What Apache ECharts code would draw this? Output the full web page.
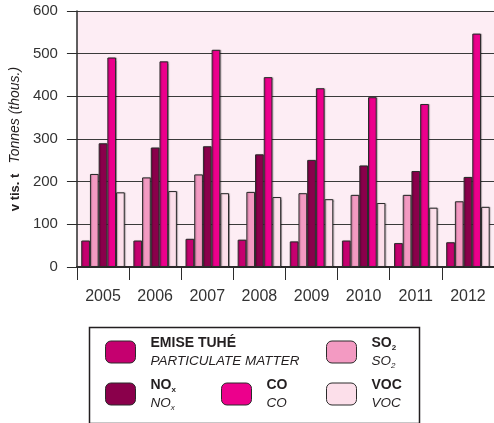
<!DOCTYPE html>
<html>
<head>
<meta charset="utf-8">
<script src="https://cdn.jsdelivr.net/npm/echarts@6/dist/echarts.min.js"></script>
<style>
  html, body { margin: 0; padding: 0; background: #fff; }
  #chart { width: 494px; height: 423px; }
</style>
</head>
<body>
<div id="chart"></div>
<script>
// emissions, thousand tonnes
const years = ['2005', '2006', '2007', '2008', '2009', '2010', '2011', '2012']
const particulate = [62, 62, 66, 64, 60, 62, 56, 58]
const so2 = [218, 210, 217, 176, 173, 169, 169, 154]
const nox = [290, 280, 283, 264, 251, 238, 225, 211]
const co = [491, 482, 509, 445, 419, 398, 382, 547]
const voc = [175, 178, 173, 164, 159, 150, 139, 141]

const font = '"Liberation Sans", Arial, Helvetica, sans-serif'
const dark = '#2b2b2b'

const colors = {
  'EMISE TUHÉ': '#c5006f',
  'SO2': '#f39ac2',
  'NOx': '#8a004b',
  'CO': '#ec008c',
  'VOC': '#fcdfea'
}

const labels = {
  'EMISE TUHÉ': '{bp|EMISE TUHÉ}\n{ip|PARTICULATE MATTER}',
  'SO2': '{bp|SO}{bs|2}\n{ip|SO}{is|2}',
  'NOx': '{bp|NO}{bs|x}\n{ip|NO}{is|x}',
  'CO': '{bp|CO}\n{ip|CO}',
  'VOC': '{bp|VOC}\n{ip|VOC}'
}

const rich = {
  bp: { fontFamily: font, fontSize: 14, fontWeight: 'bold', color: '#231f20', lineHeight: 18, padding: [0, 0, 0, 10] },
  bs: { fontFamily: font, fontSize: 8, fontWeight: 'bold', color: '#231f20', lineHeight: 18, verticalAlign: 'bottom' },
  ip: { fontFamily: font, fontSize: 13.5, fontStyle: 'italic', color: '#231f20', lineHeight: 18, padding: [0, 0, 0, 10] },
  is: { fontFamily: font, fontSize: 8, fontStyle: 'italic', color: '#231f20', lineHeight: 18, verticalAlign: 'bottom' }
}

function legendAt (name, left, top) {
  return {
    data: [name],
    left: left,
    top: top,
    padding: 0,
    itemWidth: 30,
    itemHeight: 22,
    selectedMode: false,
    itemStyle: { borderColor: dark, borderWidth: 1 },
    formatter: (n) => labels[n],
    textStyle: { rich: rich }
  }
}

function barSeries (name, values) {
  return {
    name: name,
    type: 'bar',
    data: values,
    barWidth: 8.7,
    barGap: '0%',
    itemStyle: {
      color: colors[name],
      borderColor: dark,
      borderWidth: 1,
      shadowColor: 'rgba(0,0,0,0.25)',
      shadowOffsetX: 1,
      shadowBlur: 1
    }
  }
}

const chart = echarts.init(document.getElementById('chart'), null, { renderer: 'canvas' })

chart.setOption({
  animation: false,
  backgroundColor: '#fff',
  textStyle: { fontFamily: font },
  grid: {
    left: 73,
    top: 11,
    width: 424,
    height: 256,
    show: true,
    backgroundColor: '#fdedf4',
    borderWidth: 0
  },
  legend: [
    legendAt('EMISE TUHÉ', 105, 336),
    legendAt('SO2', 326, 336),
    legendAt('NOx', 105, 378),
    legendAt('CO', 221, 378),
    legendAt('VOC', 326, 378)
  ],
  xAxis: {
    type: 'category',
    data: years,
    boundaryGap: true,
    axisLine: { show: true, lineStyle: { color: dark, width: 2 } },
    axisTick: { show: true, length: 13, lineStyle: { color: dark, width: 1 } },
    axisLabel: { fontSize: 16, color: '#333', margin: 22, fontFamily: font }
  },
  yAxis: {
    type: 'value',
    min: 0,
    max: 600,
    interval: 100,
    name: '{b|v tis. t}   {i|Tonnes (thous.)}',
    nameLocation: 'middle',
    nameRotate: 90,
    nameGap: 54,
    nameTextStyle: {
      rich: {
        b: { fontFamily: font, fontSize: 13, fontWeight: 'bold', color: '#231f20' },
        i: { fontFamily: font, fontSize: 14, fontStyle: 'italic', color: '#231f20' }
      }
    },
    axisLine: { show: true, lineStyle: { color: dark, width: 1.5 } },
    axisTick: { show: true, length: 10, lineStyle: { color: dark } },
    axisLabel: { fontSize: 15, color: '#333', margin: 19, fontFamily: font },
    splitLine: { show: true, lineStyle: { color: '#3a3a3a', width: 1 } }
  },
  graphic: [{
    type: 'rect',
    left: 87,
    top: 325,
    shape: { width: 330, height: 96 },
    style: { fill: 'none', stroke: '#231f20', lineWidth: 1.5 },
    silent: true
  }],
  series: [
    barSeries('EMISE TUHÉ', particulate),
    barSeries('SO2', so2),
    barSeries('NOx', nox),
    barSeries('CO', co),
    barSeries('VOC', voc)
  ]
})
</script>
</body>
</html>
